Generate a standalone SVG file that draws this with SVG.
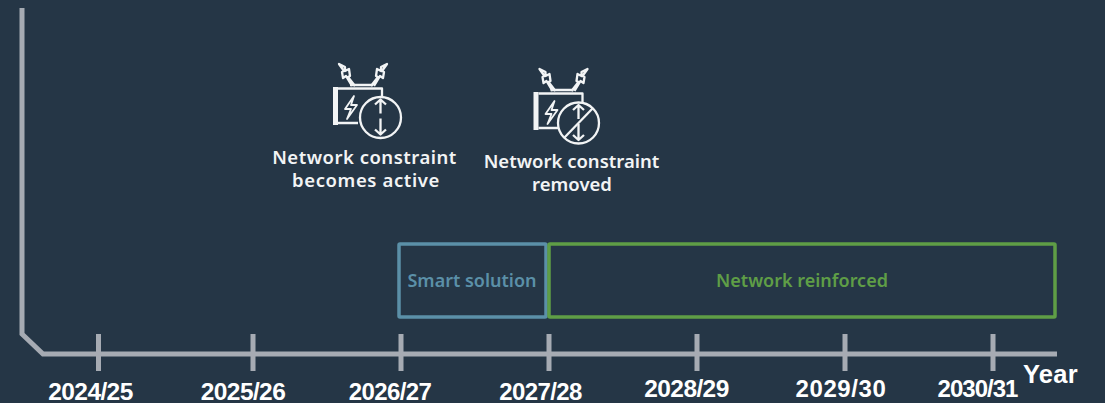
<svg xmlns="http://www.w3.org/2000/svg" width="1105" height="403" viewBox="0 0 1105 403">
<style>
.ax{fill:none;stroke:#a6abb3;stroke-width:5}
.yr{font-family:"Liberation Sans",Arial,sans-serif;font-weight:700;font-size:24px;fill:#fff;letter-spacing:-.6px;text-anchor:middle}
.lb{font-family:"Noto Sans","Open Sans",sans-serif;font-weight:600;font-size:18.500px;fill:#f2f4f5;text-anchor:middle}
.bx{font-family:"Noto Sans","Open Sans",sans-serif;font-weight:600;font-size:18px;text-anchor:middle}
.ic{fill:none;stroke:#f2f4f5;stroke-width:2.300;stroke-linejoin:round}
</style>
<defs>
<g id="body" class="ic">
<rect x="333" y="87" width="5" height="38" fill="#f2f4f5" stroke="none"/>
<path d="M338 88.500H382V97M338 123H358M350 85H373"/>
<path d="M352 86 346 76 343 78 342 72 344 71 339 64 345 67 345 71 349 69 350 76 348 77 355 86M371 86 378 77 376 76 377 69 381 71 381 67 387 64 382 71 384 72 383 78 380 76 374 86"/>
<path d="M354 96 345 109H351L347 119 357 105H351Z" stroke-width="1.800"/>
</g>
<g id="gauge" class="ic">
<circle cx="0" cy="0" r="20.500"/>
<path d="M0 -18V-4M-5.500 -13 0 -18 5.500 -13M0 1V17M-5.500 12 0 17 5.500 12"/>
</g>
</defs>
<rect width="1105" height="403" fill="#253646"/>
<g id="connectors">
<path class="ax" d="M22 8V334L43 354H1057"/>
<path class="ax" d="M98.500 334V371M253 334V371M401 334V371M549 334V371M697 334V371M845 334V371M993 334V371"/>
</g>
<g id="node-active">
<use href="#body"/>
<use href="#gauge" x="380.500" y="117.500"/>
<text class="lb" x="364.500" y="164" letter-spacing=".5">Network constraint</text>
<text class="lb" x="366" y="187" letter-spacing=".6">becomes active</text>
</g>
<g id="node-removed">
<use href="#body" transform="translate(200.500 5)"/>
<use href="#gauge" x="578.500" y="123"/>
<path class="ic" d="M564 138 593 108"/>
<text class="lb" x="571.500" y="168">Network constraint</text>
<text class="lb" x="572" y="191">removed</text>
</g>
<g id="node-smart">
<rect x="399" y="244" width="147" height="73" rx="1" fill="none" stroke="#5b90a8" stroke-width="3.500"/>
<text class="bx" x="472" y="287" fill="#5b90a8">Smart solution</text>
</g>
<g id="node-reinforced">
<rect x="549" y="244" width="506" height="73" rx="1" fill="none" stroke="#5f9e46" stroke-width="3.500"/>
<text class="bx" x="802" y="287" fill="#5f9e46">Network reinforced</text>
</g>
<g id="axis-labels">
<text class="yr" x="90.500" y="400" style="font-size:24.500px">2024/25</text>
<text class="yr" x="243" y="400" style="font-size:24.500px">2025/26</text>
<text class="yr" x="390" y="400">2026/27</text>
<text class="yr" x="540.500" y="400">2027/28</text>
<text class="yr" x="686.500" y="397" style="font-size:24.500px">2028/29</text>
<text class="yr" x="841" y="397" style="letter-spacing:.6px">2029/30</text>
<text class="yr" x="977.500" y="397" style="letter-spacing:-1px">2030/31</text>
<text class="yr" x="1050.500" y="383" style="font-size:25.500px;letter-spacing:.3px">Year</text>
</g>
</svg>
